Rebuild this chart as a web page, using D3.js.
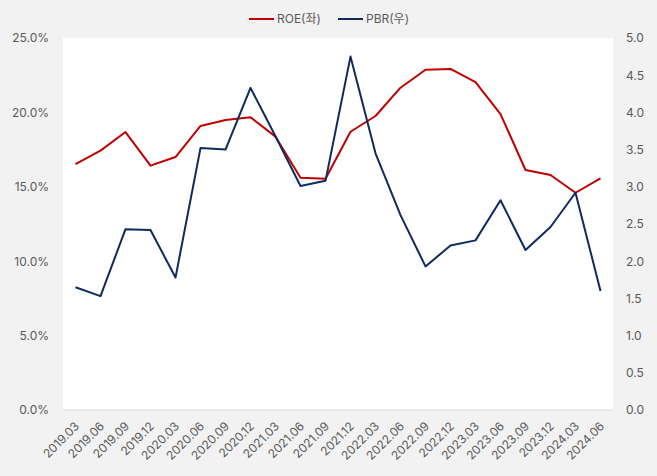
<!DOCTYPE html>
<html>
<head>
<meta charset="utf-8">
<script src="https://cdn.jsdelivr.net/npm/d3@7/dist/d3.min.js"></script>
<style>
  html, body { margin: 0; padding: 0; background: #f2f2f2; }
  svg { display: block; }
  text { font-family: Inter, "Noto Sans CJK KR", sans-serif; }
</style>
</head>
<body>
<svg id="chart" width="657" height="476"></svg>
<script>
const categories = ["2019.03","2019.06","2019.09","2019.12","2020.03","2020.06","2020.09","2020.12","2021.03","2021.06","2021.09","2021.12","2022.03","2022.06","2022.09","2022.12","2023.03","2023.06","2023.09","2023.12","2024.03","2024.06"];
const roe = [16.53,17.43,18.68,16.42,17.0,19.09,19.49,19.67,18.37,15.61,15.54,18.7,19.76,21.66,22.87,22.92,22.04,19.89,16.13,15.79,14.6,15.57];
const pbr = [1.65,1.53,2.43,2.42,1.78,3.52,3.50,4.33,3.68,3.01,3.08,4.75,3.45,2.62,1.93,2.21,2.28,2.82,2.15,2.46,2.92,1.60];
const leftTicks = [0,5,10,15,20,25];
const rightTicks = [0,0.5,1,1.5,2,2.5,3,3.5,4,4.5,5];
const seriesNames = ["ROE(좌)","PBR(우)"];
const colors = ["#c00000","#0e2a5e"];

const W = 657, H = 476;
const m = {left: 63, right: 44, top: 38, bottom: 66};
const svg = d3.select("#chart");

svg.append("rect").attr("width", W).attr("height", H).attr("fill", "#f2f2f2");
svg.append("rect").attr("x", m.left).attr("y", m.top)
  .attr("width", W - m.left - m.right).attr("height", H - m.top - m.bottom).attr("fill", "#ffffff");

const x = d3.scalePoint().domain(categories).range([m.left, W - m.right]).padding(0.5);
const yL = d3.scaleLinear().domain([0, 25]).range([H - m.bottom, m.top]);
const yR = d3.scaleLinear().domain([0, 5]).range([H - m.bottom, m.top]);

// bottom axis line
svg.append("line").attr("x1", m.left).attr("x2", W - m.right)
  .attr("y1", yL(0)).attr("y2", yL(0)).attr("stroke", "#d9d9d9").attr("stroke-width", 1);

// left axis
const gL = svg.append("g").attr("transform", `translate(${m.left},0)`)
  .call(d3.axisLeft(yL).tickValues(leftTicks).tickFormat(d => d.toFixed(1) + "%").tickSize(0).tickPadding(14));
gL.select(".domain").remove();
gL.selectAll("text").attr("fill", "#595959").style("font-size", "12px");

// right axis
const gR = svg.append("g").attr("transform", `translate(${W - m.right},0)`)
  .call(d3.axisRight(yR).tickValues(rightTicks).tickFormat(d3.format(".1f")).tickSize(0).tickPadding(13));
gR.select(".domain").remove();
gR.selectAll("text").attr("fill", "#595959").style("font-size", "12px");

// bottom axis
const gB = svg.append("g").attr("transform", `translate(0,${yL(0)})`)
  .call(d3.axisBottom(x).tickSize(0).tickPadding(0));
gB.select(".domain").remove();
gB.selectAll("text")
  .attr("fill", "#595959").style("font-size", "12px")
  .attr("text-anchor", "end")
  .attr("dy", "0")
  .attr("transform", "translate(4,17) rotate(-45)");

// lines
const lineL = d3.line().x((d, i) => x(categories[i])).y(d => yL(d));
const lineR = d3.line().x((d, i) => x(categories[i])).y(d => yR(d));
svg.append("path").datum(roe).attr("d", lineL).attr("fill", "none")
  .attr("stroke", colors[0]).attr("stroke-width", 2).attr("stroke-linejoin", "round");
svg.append("path").datum(pbr).attr("d", lineR).attr("fill", "none")
  .attr("stroke", colors[1]).attr("stroke-width", 2).attr("stroke-linejoin", "round");

// legend
const legendX = [249, 338];
const leg = svg.append("g");
seriesNames.forEach((name, i) => {
  leg.append("line").attr("x1", legendX[i]).attr("x2", legendX[i] + 25)
    .attr("y1", 19).attr("y2", 19).attr("stroke", colors[i]).attr("stroke-width", 2);
  leg.append("text").attr("x", legendX[i] + 28).attr("y", 19).attr("dy", "0.35em")
    .attr("fill", "#595959").style("font-size", "12px").text(name);
});
</script>
</body>
</html>
